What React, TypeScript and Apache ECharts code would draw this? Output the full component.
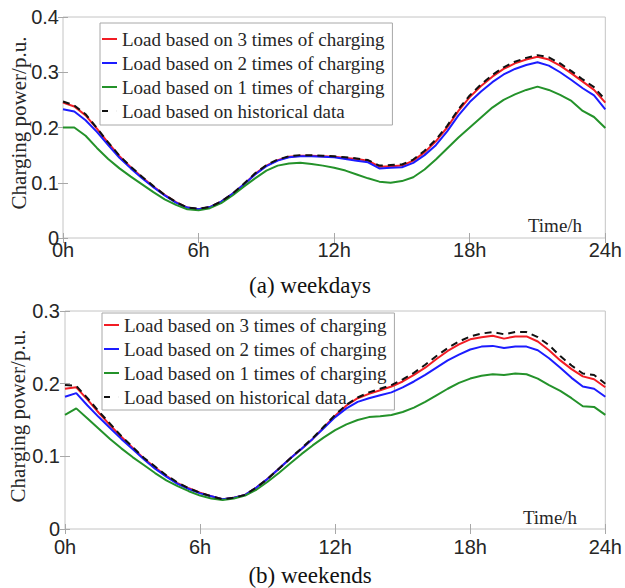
import React, { useEffect, useRef } from "react";
import * as echarts from "echarts";

const hours = [0, 0.5, 1, 1.5, 2, 2.5, 3, 3.5, 4, 4.5, 5, 5.5, 6, 6.5, 7, 7.5, 8, 8.5, 9, 9.5, 10, 10.5, 11, 11.5, 12, 12.5, 13, 13.5, 14, 14.5, 15, 15.5, 16, 16.5, 17, 17.5, 18, 18.5, 19, 19.5, 20, 20.5, 21, 21.5, 22, 22.5, 23, 23.5, 24];
const xTicks = ["0h", "6h", "12h", "18h", "24h"];
const seriesNames = [
  "Load based on 3 times of charging",
  "Load based on 2 times of charging",
  "Load based on 1 times of charging",
  "Load based on historical data",
];

// (a) weekdays
const wdThree = [0.245, 0.238, 0.222, 0.198, 0.172, 0.148, 0.128, 0.110, 0.093, 0.078, 0.065, 0.055, 0.052, 0.056, 0.066, 0.080, 0.097, 0.116, 0.131, 0.141, 0.147, 0.149, 0.149, 0.148, 0.147, 0.145, 0.143, 0.140, 0.129, 0.130, 0.131, 0.140, 0.155, 0.175, 0.200, 0.230, 0.255, 0.275, 0.292, 0.306, 0.316, 0.323, 0.328, 0.323, 0.312, 0.298, 0.283, 0.268, 0.245];
const wdTwo = [0.233, 0.229, 0.213, 0.192, 0.168, 0.145, 0.126, 0.108, 0.092, 0.077, 0.064, 0.055, 0.052, 0.056, 0.066, 0.080, 0.097, 0.115, 0.130, 0.140, 0.146, 0.148, 0.148, 0.147, 0.146, 0.143, 0.140, 0.137, 0.126, 0.127, 0.128, 0.136, 0.150, 0.168, 0.193, 0.222, 0.246, 0.265, 0.282, 0.296, 0.306, 0.313, 0.318, 0.312, 0.300, 0.286, 0.271, 0.258, 0.233];
const wdOne = [0.200, 0.200, 0.185, 0.163, 0.143, 0.126, 0.111, 0.097, 0.083, 0.070, 0.060, 0.052, 0.050, 0.054, 0.063, 0.077, 0.093, 0.108, 0.122, 0.131, 0.135, 0.136, 0.134, 0.131, 0.127, 0.122, 0.115, 0.108, 0.102, 0.100, 0.103, 0.110, 0.124, 0.142, 0.162, 0.182, 0.200, 0.218, 0.236, 0.250, 0.260, 0.268, 0.274, 0.268, 0.259, 0.248, 0.230, 0.219, 0.199];
const wdHist = [0.247, 0.240, 0.224, 0.199, 0.173, 0.149, 0.129, 0.111, 0.094, 0.078, 0.065, 0.055, 0.053, 0.056, 0.066, 0.080, 0.098, 0.117, 0.132, 0.142, 0.148, 0.150, 0.150, 0.149, 0.148, 0.146, 0.144, 0.141, 0.131, 0.132, 0.133, 0.142, 0.158, 0.178, 0.203, 0.233, 0.258, 0.278, 0.295, 0.309, 0.319, 0.326, 0.331, 0.327, 0.316, 0.302, 0.287, 0.273, 0.250];

// (b) weekends
const weThree = [0.193, 0.195, 0.178, 0.160, 0.143, 0.127, 0.112, 0.097, 0.085, 0.073, 0.063, 0.056, 0.050, 0.045, 0.041, 0.043, 0.047, 0.057, 0.069, 0.083, 0.097, 0.110, 0.124, 0.140, 0.156, 0.170, 0.180, 0.186, 0.191, 0.196, 0.203, 0.212, 0.222, 0.234, 0.245, 0.254, 0.261, 0.264, 0.266, 0.262, 0.265, 0.265, 0.258, 0.246, 0.232, 0.220, 0.210, 0.206, 0.195];
const weTwo = [0.182, 0.187, 0.170, 0.154, 0.139, 0.124, 0.110, 0.096, 0.083, 0.072, 0.062, 0.055, 0.049, 0.045, 0.041, 0.043, 0.047, 0.057, 0.069, 0.083, 0.097, 0.110, 0.124, 0.139, 0.154, 0.166, 0.175, 0.180, 0.184, 0.188, 0.195, 0.203, 0.212, 0.222, 0.232, 0.240, 0.247, 0.251, 0.252, 0.249, 0.251, 0.251, 0.246, 0.235, 0.222, 0.208, 0.196, 0.193, 0.182];
const weOne = [0.157, 0.166, 0.152, 0.138, 0.124, 0.111, 0.099, 0.088, 0.077, 0.067, 0.059, 0.052, 0.046, 0.042, 0.040, 0.042, 0.046, 0.054, 0.065, 0.077, 0.090, 0.103, 0.115, 0.126, 0.136, 0.144, 0.150, 0.154, 0.155, 0.157, 0.161, 0.167, 0.175, 0.184, 0.193, 0.201, 0.207, 0.211, 0.213, 0.212, 0.214, 0.213, 0.207, 0.198, 0.190, 0.180, 0.169, 0.168, 0.157];
const weHist = [0.198, 0.197, 0.180, 0.162, 0.145, 0.128, 0.113, 0.098, 0.086, 0.074, 0.064, 0.056, 0.050, 0.045, 0.041, 0.043, 0.047, 0.057, 0.069, 0.083, 0.097, 0.111, 0.125, 0.141, 0.157, 0.171, 0.181, 0.188, 0.193, 0.198, 0.206, 0.215, 0.226, 0.238, 0.249, 0.258, 0.265, 0.269, 0.271, 0.268, 0.271, 0.271, 0.264, 0.253, 0.238, 0.225, 0.214, 0.212, 0.200];

const colors = ["#f21c24", "#1c1cff", "#24922a", "#111111"];

const pairs = (vals: number[]) => hours.map((h, i) => [h, vals[i]]);

export default function App() {
  const ref = useRef<HTMLDivElement>(null);
  useEffect(() => {
    if (!ref.current) return;
    const chart = echarts.init(ref.current, undefined, { renderer: "svg" });
    const serif = "Liberation Serif";
    const sans = "Liberation Sans";
    const frame = "#c4c4c4";
    const tickColor = "#a8a8a8";

    const xBottom = (gridIndex: number, margin: number) => ({
      type: "value",
      gridIndex,
      position: "bottom",
      min: 0,
      max: 24,
      interval: 6,
      axisLine: { show: false },
      axisTick: { show: true, inside: true, length: 5, lineStyle: { color: tickColor } },
      splitLine: { show: false },
      axisLabel: {
        margin,
        color: "#262626",
        fontFamily: sans,
        fontSize: 20,
        formatter: (v: number) => xTicks[Math.round(v / 6)],
      },
    });
    const xTop = (gridIndex: number) => ({
      type: "value",
      gridIndex,
      position: "top",
      min: 0,
      max: 24,
      interval: 6,
      axisLine: { show: false },
      axisTick: { show: true, inside: true, length: 5, lineStyle: { color: tickColor } },
      splitLine: { show: false },
      axisLabel: { show: false },
    });
    const yLeft = (gridIndex: number, max: number, margin: number) => ({
      type: "value",
      gridIndex,
      position: "left",
      min: 0,
      max,
      interval: 0.1,
      axisLine: { show: false },
      axisTick: { show: true, inside: true, length: 5, lineStyle: { color: tickColor } },
      splitLine: { show: false },
      axisLabel: { margin, color: "#262626", fontFamily: sans, fontSize: 20 },
    });
    const yRight = (gridIndex: number, max: number) => ({
      type: "value",
      gridIndex,
      position: "right",
      min: 0,
      max,
      interval: 0.1,
      axisLine: { show: false },
      axisTick: { show: true, inside: true, length: 5, lineStyle: { color: tickColor } },
      splitLine: { show: false },
      axisLabel: { show: false },
    });

    const mk = (name: string, vals: number[], idx: number, color: string, dashed: boolean) => ({
      type: "line",
      name,
      xAxisIndex: idx,
      yAxisIndex: idx,
      data: pairs(vals),
      showSymbol: false,
      symbol: "none",
      lineStyle: { color, width: 2, type: dashed ? [7, 5] : "solid" },
      itemStyle: { color },
      z: dashed ? 6 : 5,
    });

    const lineIcon = "path://M0,0H15V2H0Z";
    const dashIcon = "path://M0,0H6V2H0ZM14.95,0H15V2H14.95Z";
    const legendData = seriesNames.map((name, i) => ({
      name,
      icon: i === 3 ? dashIcon : lineIcon,
      itemStyle: { color: colors[i] },
    }));

    const legendBase = {
      orient: "vertical",
      backgroundColor: "#ffffff",
      borderColor: "#a8a8a8",
      borderWidth: 1,
      borderRadius: 0,
      itemWidth: 15,
      itemHeight: 2,
      itemGap: 4,
      selectedMode: false,
      z: 1,
      textStyle: { fontFamily: serif, fontSize: 19, color: "#262626", lineHeight: 20 },
      data: legendData,
    };

    chart.setOption({
      animation: false,
      backgroundColor: "#ffffff",
      grid: [
        { left: 63, top: 17, width: 543, height: 221, show: true, borderColor: frame, borderWidth: 1 },
        { left: 65, top: 311, width: 542, height: 218, show: true, borderColor: frame, borderWidth: 1 },
      ],
      xAxis: [xBottom(0, 2), xTop(0), xBottom(1, 8), xTop(1)],
      yAxis: [yLeft(0, 0.4, 4), yRight(0, 0.4), yLeft(1, 0.3, 5), yRight(1, 0.3)],
      legend: [
        { ...legendBase, left: 100, top: 23, padding: [6, 8, 4, 2] },
        { ...legendBase, left: 102, top: 313, padding: [2, 8, 3, 2] },
      ],
      graphic: [
        { type: "text", x: 19, y: 123, rotation: Math.PI / 2, style: { text: "Charging power/p.u.", font: `21px "${serif}"`, fill: "#262626", textAlign: "center", textVerticalAlign: "middle" } },
        { type: "text", x: 18, y: 416, rotation: Math.PI / 2, style: { text: "Charging power/p.u.", font: `21px "${serif}"`, fill: "#262626", textAlign: "center", textVerticalAlign: "middle" } },
        { type: "text", x: 555, y: 225, style: { text: "Time/h", font: `19px "${serif}"`, fill: "#262626", textAlign: "center", textVerticalAlign: "middle" } },
        { type: "text", x: 550, y: 517, style: { text: "Time/h", font: `19px "${serif}"`, fill: "#262626", textAlign: "center", textVerticalAlign: "middle" } },
        { type: "text", x: 310, y: 285, style: { text: "(a) weekdays", font: `23px "${serif}"`, fill: "#111111", textAlign: "center", textVerticalAlign: "middle" } },
        { type: "text", x: 310, y: 575, style: { text: "(b) weekends", font: `23px "${serif}"`, fill: "#111111", textAlign: "center", textVerticalAlign: "middle" } },
      ],
      series: [
        mk(seriesNames[0], wdThree, 0, colors[0], false),
        mk(seriesNames[1], wdTwo, 0, colors[1], false),
        mk(seriesNames[2], wdOne, 0, colors[2], false),
        mk(seriesNames[3], wdHist, 0, colors[3], true),
        mk(seriesNames[0], weThree, 2, colors[0], false),
        mk(seriesNames[1], weTwo, 2, colors[1], false),
        mk(seriesNames[2], weOne, 2, colors[2], false),
        mk(seriesNames[3], weHist, 2, colors[3], true),
      ],
    });
    return () => chart.dispose();
  }, []);
  return <div ref={ref} style={{ position: "absolute", left: 0, top: 0, width: 625, height: 588 }} />;
}
